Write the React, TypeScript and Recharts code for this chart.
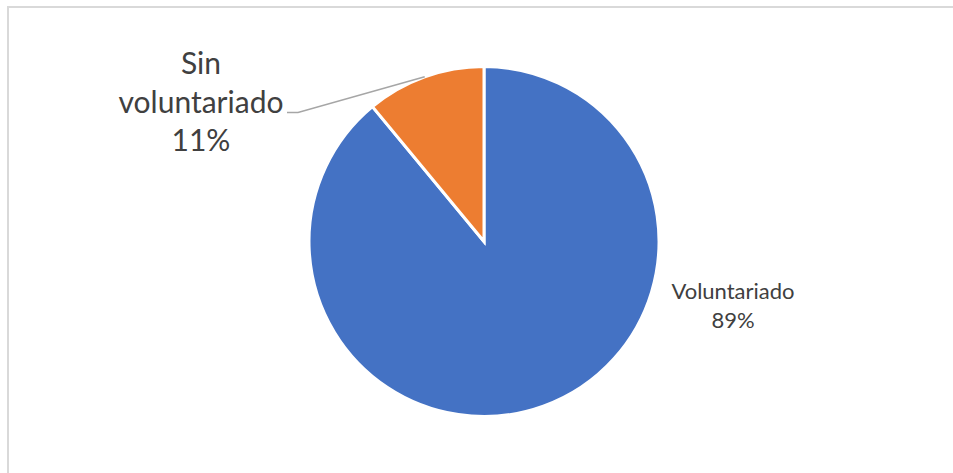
import React from "react";
import { PieChart, Pie, Cell } from "recharts";

const categories = ["Voluntariado", "Sin voluntariado"];
const values = [89, 11];
const COLORS = ["#4472C4", "#ED7D31"];

const chartData = categories.map((name, i) => ({ name, value: values[i] }));

const RADIAN = Math.PI / 180;

const renderLabel = (props: any) => {
  const { cx, cy, midAngle, outerRadius, index } = props;
  if (index === 0) {
    const tx = cx + 249;
    return (
      <text
        textAnchor="middle"
        fill="#404040"
        fontSize={22}
        fontFamily="Lato, sans-serif"
      >
        <tspan x={tx} y={cy + 57}>Voluntariado</tspan>
        <tspan x={tx} y={cy + 86}>89%</tspan>
      </text>
    );
  }
  const ex = cx + outerRadius * Math.cos(-midAngle * RADIAN);
  const ey = cy + outerRadius * Math.sin(-midAngle * RADIAN);
  const tx = cx - 283;
  return (
    <g>
      <polyline
        points={`${ex},${ey} ${cx - 186},${cy - 129} ${cx - 197},${cy - 129}`}
        fill="none"
        stroke="#A6A6A6"
        strokeWidth={1.5}
      />
      <text textAnchor="middle" fill="#404040" fontSize={30} fontFamily="Lato, sans-serif">
        <tspan x={tx} y={cy - 168}>Sin</tspan>
        <tspan x={tx} y={cy - 129}>voluntariado</tspan>
        <tspan x={tx} y={cy - 91}>11%</tspan>
      </text>
    </g>
  );
};

export default function App() {
  return (
    <div
      style={{
        position: "absolute",
        left: 0,
        top: 0,
        width: 953,
        height: 473,
        overflow: "hidden",
        background: "#fff",
      }}
    >
      <div
        style={{
          position: "absolute",
          left: 7,
          top: 6,
          width: 980,
          height: 500,
          border: "2px solid #D9D9D9",
        }}
      />
      <div style={{ position: "absolute", left: 0, top: 0 }}>
        <PieChart width={953} height={473}>
          <Pie
            data={chartData}
            dataKey="value"
            nameKey="name"
            cx={479}
            cy={236.5}
            outerRadius={175}
            startAngle={90}
            endAngle={-270}
            stroke="#FFFFFF"
            strokeWidth={3}
            label={renderLabel}
            labelLine={false}
            isAnimationActive={false}
          >
            {chartData.map((entry, index) => (
              <Cell key={`cell-${index}`} fill={COLORS[index]} />
            ))}
          </Pie>
        </PieChart>
      </div>
    </div>
  );
}
